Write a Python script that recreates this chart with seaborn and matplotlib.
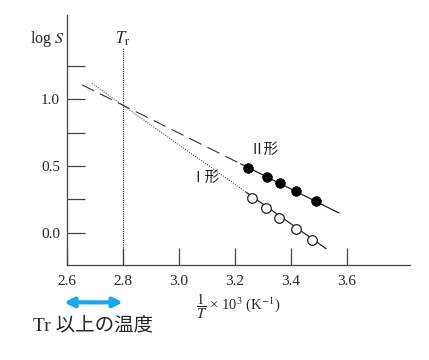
import numpy as np
import pandas as pd
import seaborn as sns
import matplotlib.pyplot as plt

# 測定点 (1/T x 10^3, log S)
form2_x = [3.246, 3.314, 3.361, 3.418, 3.489]
form2_y = [0.487, 0.418, 0.373, 0.313, 0.239]
form1_x = [3.261, 3.311, 3.357, 3.418, 3.475]
form1_y = [0.261, 0.187, 0.112, 0.030, -0.052]

# 直線 (外挿部分 / 実測部分)
line2_ext_x = [2.654, 3.22]
line2_ext_y = [1.108, 0.517]
line2_x = [3.22, 3.571]
line2_y = [0.517, 0.149]
line1_ext_x = [2.689, 3.24]
line1_ext_y = [1.119, 0.304]
line1_x = [3.24, 3.525]
line1_y = [0.304, -0.118]

tr_x = 2.8
arrow_x = [2.59, 2.8]

x_ticks = [2.6, 2.8, 3.0, 3.2, 3.4, 3.6]
y_ticks = [0.0, 0.5, 1.0]
y_minor = [0.25, 0.75, 1.25]

sns.set_style('ticks')
plt.rcParams['font.family'] = ['Liberation Serif', 'Noto Sans CJK JP', 'DejaVu Sans']
plt.rcParams['mathtext.fontset'] = 'stix'

fig = plt.figure(figsize=(4.29, 3.6), dpi=100)
ax = fig.add_axes([0.156, 0.264, 0.8, 0.694])

sns.lineplot(x=line2_ext_x, y=line2_ext_y, ax=ax, color='#333333', lw=0.8)
ax.lines[-1].set_dashes([12, 6])
sns.lineplot(x=line2_x, y=line2_y, ax=ax, color='#222222', lw=0.9)
sns.lineplot(x=line1_ext_x, y=line1_ext_y, ax=ax, color='#333333', lw=0.7)
ax.lines[-1].set_dashes([1, 1.5])
sns.lineplot(x=line1_x, y=line1_y, ax=ax, color='#222222', lw=0.9)

sns.scatterplot(x=form2_x, y=form2_y, ax=ax, color='black', s=48, edgecolor='black', zorder=3)
sns.scatterplot(x=form1_x, y=form1_y, ax=ax, facecolor='white', s=48, edgecolor='#222222',
                linewidth=0.9, zorder=3)

ax.axvline(tr_x, ymax=0.87, color='#222222', lw=0.8, ls=(0, (1, 1)))
ax.text(tr_x, 1.455, r'$T_{\mathrm{r}}$', ha='center', va='center', fontsize=12)
ax.text(2.53, 1.455, r'log $S$', ha='center', va='center', fontsize=11.5)
ax.text(3.25, 0.62, 'Ⅱ形', ha='left', va='center', fontsize=10.5, color='#222222')
ax.text(3.04, 0.41, 'Ⅰ形', ha='left', va='center', fontsize=10.5, color='#222222')

ax.set_xlim(2.6, 3.825)
ax.set_ylim(-0.24, 1.63)
ax.set_xticks(x_ticks)
ax.set_xticklabels([f'{v:.1f}' for v in x_ticks], fontsize=11)
ax.set_yticks(y_ticks)
ax.set_yticklabels([f'{v:.1f}' for v in y_ticks], fontsize=11)
ax.set_yticks(y_minor, minor=True)
ax.tick_params(axis='both', which='both', direction='in', length=13, width=0.9, color='#444444', pad=5)
ax.tick_params(axis='x', length=12, pad=7)
sns.despine(ax=ax)
for s in ['left', 'bottom']:
    ax.spines[s].set_color('#444444')
    ax.spines[s].set_linewidth(0.9)

ax.set_xlabel(r'$\dfrac{1}{T}$ × 10$^3$ (K$^{-1}$)', fontsize=10.5, labelpad=3)

ax.annotate('', xy=(arrow_x[0], -0.52), xytext=(arrow_x[1], -0.52), xycoords='data',
            annotation_clip=False,
            arrowprops=dict(arrowstyle='<|-|>', color='#19a6ea', lw=3, mutation_scale=14,
                            shrinkA=0, shrinkB=0))
fig.text(0.077, 0.095, 'Tr 以上の温度', fontsize=14, ha='left', va='center')

fig.savefig('out.png', dpi=100)
